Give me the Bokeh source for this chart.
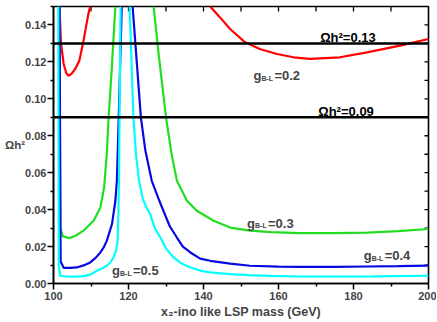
import math
from bokeh.plotting import figure
from bokeh.models import Range1d, FixedTicker, PrintfTickFormatter, Span, Label
from bokeh.embed import file_html
from bokeh.resources import INLINE

# ---------------- data ----------------
red_left_x = [101.6, 102.0, 102.7, 103.4, 104.0, 104.8, 105.8, 106.9, 108.0, 109.3, 109.8]
red_left_y = [0.150, 0.130, 0.119, 0.114, 0.1125, 0.1135, 0.1162, 0.1207, 0.1315, 0.146, 0.150]
red_right_x = [141.8, 144.4, 147.1, 151.1, 155.0, 159.6, 164.0, 168.4, 176.4, 183.6, 192.4, 200.0]
red_right_y = [0.150, 0.1441, 0.1378, 0.1306, 0.127, 0.1243, 0.1225, 0.1216, 0.1225, 0.1252, 0.1288, 0.1324]

green_left_x = [101.6, 101.8, 102.5, 104.3, 106.0, 108.0, 110.7, 112.5, 113.5, 114.2, 114.7, 115.5, 116.5]
green_left_y = [0.150, 0.030, 0.0255, 0.0246, 0.026, 0.0286, 0.034, 0.0412, 0.052, 0.070, 0.090, 0.115, 0.150]
green_right_x = [126.7, 128.0, 130.0, 131.5, 132.9, 135.6, 138.2, 142.7, 147.1, 152.4, 158.0, 165.8, 175.0, 183.6, 192.0, 200.0]
green_right_y = [0.150, 0.125, 0.090, 0.070, 0.0557, 0.0448, 0.0394, 0.034, 0.0303, 0.0286, 0.0278, 0.0273, 0.0273, 0.0276, 0.0284, 0.0295]

blue_left_x = [101.6, 101.9, 102.7, 104.5, 106.2, 108.0, 109.8, 111.3, 112.5, 113.5, 114.2, 115.6, 116.5, 116.9, 117.4, 118.2]
blue_left_y = [0.150, 0.012, 0.0085, 0.0085, 0.0087, 0.0098, 0.0114, 0.014, 0.0168, 0.020, 0.0231, 0.0322, 0.0448, 0.0556, 0.090, 0.150]
blue_right_x = [121.1, 122.2, 123.3, 124.5, 126.2, 128.0, 129.3, 131.0, 132.9, 134.5, 136.5, 139.1, 141.8, 147.1, 152.4, 160.0, 165.8, 175.0, 183.6, 192.0, 200.0]
blue_right_y = [0.150, 0.120, 0.090, 0.072, 0.0556, 0.046, 0.0394, 0.031, 0.0249, 0.020, 0.0168, 0.0135, 0.0123, 0.0108, 0.0096, 0.0091, 0.009, 0.009, 0.0092, 0.0094, 0.0097]

cyan_left_x = [101.3, 101.4, 101.8, 103.6, 106.0, 108.0, 109.8, 111.6, 113.0, 114.2, 115.2, 116.0, 116.7, 117.1, 117.3, 117.45, 117.6, 117.9]
cyan_left_y = [0.150, 0.010, 0.0042, 0.0038, 0.0037, 0.004, 0.0048, 0.0069, 0.0082, 0.0096, 0.0115, 0.0141, 0.018, 0.0231, 0.0376, 0.0556, 0.090, 0.150]
cyan_right_x = [120.3, 120.8, 121.3, 122.0, 122.8, 123.8, 124.8, 125.8, 127.0, 128.5, 130.0, 132.0, 134.0, 136.5, 139.1, 141.8, 147.1, 152.0, 158.0, 165.8, 175.0, 185.0, 200.0]
cyan_right_y = [0.150, 0.120, 0.090, 0.070, 0.0557, 0.046, 0.041, 0.0376, 0.030, 0.0249, 0.019, 0.0141, 0.011, 0.0087, 0.007, 0.006, 0.0051, 0.0045, 0.0041, 0.0038, 0.0038, 0.0039, 0.0042]

omega_levels = [0.13, 0.09]
omega_texts = ["Ωh²=0.13", "Ωh²=0.09"]
omega_text_x = [171.1, 170.6]
omega_text_y = [0.1330, 0.0932]

g_values = ["=0.2", "=0.3", "=0.4", "=0.5"]
g_text_x = [153.3, 151.6, 182.7, 115.6]
g_text_y = [0.1125, 0.0325, 0.015, 0.0069]

x_range_lim = [100, 200]
y_range_lim = [0.0, 0.15]
x_major = [100, 120, 140, 160, 180, 200]
x_minor = [110, 130, 150, 170, 190]
y_major = [0.00, 0.02, 0.04, 0.06, 0.08, 0.10, 0.12, 0.14]
y_minor = [0.01, 0.03, 0.05, 0.07, 0.09, 0.11, 0.13, 0.15]
top_ticks = [110, 120, 130, 140, 150, 160, 170, 180, 190]
right_ticks = [0.01, 0.02, 0.03, 0.04, 0.05, 0.06, 0.07, 0.08, 0.09, 0.10, 0.11, 0.12, 0.13, 0.14]

FONT = "Liberation Sans"

p = figure(width=436, height=321, output_backend="svg", toolbar_location=None,
           x_range=Range1d(*x_range_lim), y_range=Range1d(*y_range_lim),
           min_border_left=53, min_border_right=8, min_border_top=6, min_border_bottom=38)
p.background_fill_color = "white"
p.border_fill_color = "white"
p.outline_line_color = "black"
p.outline_line_width = 1.6
p.xgrid.visible = False
p.ygrid.visible = False

# bottom axis
xa = p.xaxis[0]
xa.ticker = FixedTicker(ticks=x_major, minor_ticks=x_minor)
xa.axis_label = "x₂-ino like LSP mass (GeV)"
xa.axis_label_text_font = FONT
xa.axis_label_text_font_style = "bold"
xa.axis_label_text_font_size = "12.5px"
xa.axis_label_standoff = 2
xa.major_label_text_font = FONT
xa.major_label_text_font_style = "bold"
xa.major_label_text_font_size = "11px"
xa.major_label_standoff = 2
xa.major_tick_out = 6
xa.major_tick_in = 0
xa.minor_tick_out = 3
xa.minor_tick_in = 0
xa.axis_line_width = 1.6
xa.major_tick_line_width = 1.5
xa.minor_tick_line_width = 1.5

# left axis
ya = p.yaxis[0]
ya.ticker = FixedTicker(ticks=y_major, minor_ticks=y_minor)
ya.formatter = PrintfTickFormatter(format="%.2f")
ya.axis_label = "Ωh²"
ya.axis_label_orientation = "horizontal"
ya.axis_label_text_font = FONT
ya.axis_label_text_font_style = "bold"
ya.axis_label_text_font_size = "11.5px"
ya.axis_label_standoff = -3
ya.major_label_text_font = FONT
ya.major_label_text_font_style = "bold"
ya.major_label_text_font_size = "11px"
ya.major_label_standoff = 1
ya.major_tick_out = 6
ya.major_tick_in = 0
ya.minor_tick_out = 3
ya.minor_tick_in = 0
ya.axis_line_width = 1.6
ya.major_tick_line_width = 1.5
ya.minor_tick_line_width = 1.5

# inward ticks on the top and right frame edges (dash markers clipped by the frame)
p.scatter(x=top_ticks, y=[y_range_lim[1]] * len(top_ticks), marker="dash", size=10,
          angle=math.pi / 2, line_color="black", line_width=1.3)
p.scatter(x=[x_range_lim[1]] * len(right_ticks), y=right_ticks, marker="dash", size=8,
          line_color="black", line_width=1.3)

# curves
LW = 2.2
p.line(red_left_x, red_left_y, line_color="#ff0000", line_width=LW)
p.line(red_right_x, red_right_y, line_color="#ff0000", line_width=LW)
p.line(green_left_x, green_left_y, line_color="#22dd22", line_width=LW)
p.line(green_right_x, green_right_y, line_color="#22dd22", line_width=LW)
p.line(blue_left_x, blue_left_y, line_color="#0808e0", line_width=LW)
p.line(blue_right_x, blue_right_y, line_color="#0808e0", line_width=LW)
p.line(cyan_left_x, cyan_left_y, line_color="#00ffff", line_width=LW)
p.line(cyan_right_x, cyan_right_y, line_color="#00ffff", line_width=LW)

for lv in omega_levels:
    p.add_layout(Span(location=lv, dimension="width", line_color="black", line_width=2.5))

for t, x, y in zip(omega_texts, omega_text_x, omega_text_y):
    p.add_layout(Label(x=x, y=y, text=t, text_font=FONT, text_font_style="bold",
                       text_font_size="13px", text_color="black", text_baseline="alphabetic"))

for t, x, y in zip(g_values, g_text_x, g_text_y):
    p.add_layout(Label(x=x, y=y, text="g", text_font=FONT, text_font_style="bold",
                       text_font_size="13px", text_baseline="alphabetic"))
    p.add_layout(Label(x=x, y=y, x_offset=8, y_offset=-2.5, text="B-L", text_font=FONT,
                       text_font_style="bold", text_font_size="7px", text_baseline="alphabetic"))
    p.add_layout(Label(x=x, y=y, x_offset=21, text=t, text_font=FONT, text_font_style="bold",
                       text_font_size="13px", text_baseline="alphabetic"))

open("out.html", "w").write(file_html(p, INLINE))
